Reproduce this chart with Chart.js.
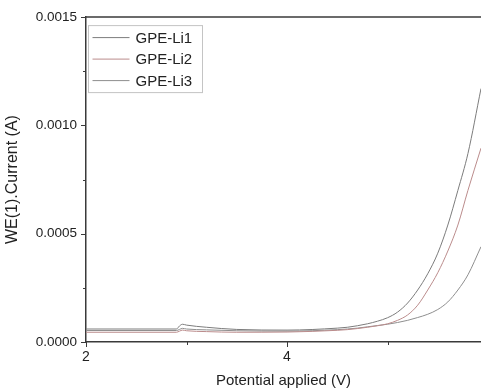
<!DOCTYPE html>
<html>
<head>
<meta charset="utf-8">
<script src="https://cdn.jsdelivr.net/npm/chart.js@4"></script>
<style>
  body { margin: 0; background: #fff; }
  canvas { display: block; }
</style>
</head>
<body>
<canvas id="lsv-chart" width="481" height="391"></canvas>
<script>
// Potential (V)
const potential = [2.0, 2.9, 2.93, 2.96, 3.0, 3.2, 3.5, 4.0, 4.5, 4.6, 4.7, 4.8, 4.9, 5.0, 5.1, 5.2, 5.3, 5.4, 5.5, 5.6, 5.7, 5.8, 5.93];

// Current (A)
const li1 = [6.0e-5, 6.0e-5, 7.4e-5, 8.2e-5, 7.8e-5, 6.8e-5, 5.8e-5, 5.5e-5, 6.4e-5, 6.8e-5, 7.5e-5, 8.4e-5, 9.6e-5, 1.12e-4, 1.38e-4, 1.8e-4, 2.4e-4, 3.15e-4, 4.1e-4, 5.4e-4, 7.0e-4, 8.7e-4, 1.17e-3];
const li2 = [4.5e-5, 4.5e-5, 5.0e-5, 5.5e-5, 5.2e-5, 4.8e-5, 4.5e-5, 4.6e-5, 5.4e-5, 5.7e-5, 6.2e-5, 6.8e-5, 7.5e-5, 8.4e-5, 1.0e-4, 1.25e-4, 1.7e-4, 2.4e-4, 3.2e-4, 4.2e-4, 5.4e-4, 7.0e-4, 8.95e-4];
const li3 = [5.3e-5, 5.3e-5, 5.8e-5, 6.3e-5, 6.0e-5, 5.6e-5, 5.2e-5, 5.0e-5, 5.7e-5, 6.0e-5, 6.4e-5, 7.0e-5, 7.6e-5, 8.2e-5, 9.0e-5, 1.0e-4, 1.13e-4, 1.28e-4, 1.5e-4, 1.85e-4, 2.4e-4, 3.1e-4, 4.4e-4];

const seriesNames = ['GPE-Li1', 'GPE-Li2', 'GPE-Li3'];
const seriesColors = ['#7c7c7c', '#bb8c8c', '#8e8e8e'];

// Tick values
const xTicks = [2, 3, 4, 5];
const yTicks = [0, 0.00025, 0.0005, 0.00075, 0.001, 0.00125, 0.0015];

const fontFamily = '"Liberation Sans", Arial, sans-serif';
const axisColor = '#3a3a3a';

function toPoints(ys) {
    return potential.map((x, i) => ({ x: x, y: ys[i] }));
}

// frame line on top, minor/major tick marks, legend box inside plot
const framePlugin = {
    id: 'frame',
    afterDraw(chart) {
        const ctx = chart.ctx;
        const area = chart.chartArea;
        const xs = chart.scales.x;
        const ys = chart.scales.y;
        ctx.save();
        ctx.strokeStyle = axisColor;
        ctx.lineWidth = 1.5;
        ctx.beginPath();
        ctx.moveTo(area.left, area.top);
        ctx.lineTo(area.right, area.top);
        ctx.stroke();

        ctx.lineWidth = 1;
        xTicks.forEach(v => {
            const px = Math.round(xs.getPixelForValue(v)) + 0.5;
            const len = v % 2 === 0 ? 5 : 3;
            ctx.beginPath();
            ctx.moveTo(px, area.bottom);
            ctx.lineTo(px, area.bottom + len);
            ctx.stroke();
        });
        yTicks.forEach((v, i) => {
            const py = Math.round(ys.getPixelForValue(v)) + 0.5;
            const len = i % 2 === 0 ? 5 : 3;
            ctx.beginPath();
            ctx.moveTo(area.left, py);
            ctx.lineTo(area.left - len, py);
            ctx.stroke();
        });

        // legend
        const bx = area.left + 2.5, by = area.top + 8.5, bw = 114, bh = 67;
        ctx.strokeStyle = '#c4c4c4';
        ctx.lineWidth = 1;
        ctx.strokeRect(bx, by, bw, bh);
        ctx.font = '15px ' + fontFamily;
        ctx.textBaseline = 'middle';
        ctx.fillStyle = '#222';
        chart.data.datasets.forEach((ds, i) => {
            const cy = by + 12 + i * 21.5;
            ctx.strokeStyle = ds.borderColor;
            ctx.beginPath();
            ctx.moveTo(bx + 4, cy);
            ctx.lineTo(bx + 41, cy);
            ctx.stroke();
            ctx.fillText(ds.label, bx + 47, cy + 1);
        });
        ctx.restore();
    }
};

const config = {
    type: 'line',
    data: {
        datasets: [li1, li2, li3].map((ys, i) => ({
            label: seriesNames[i],
            data: toPoints(ys),
            borderColor: seriesColors[i],
            borderWidth: 1,
            pointRadius: 0,
            fill: false,
            cubicInterpolationMode: 'monotone'
        }))
    },
    options: {
        responsive: false,
        animation: false,
        devicePixelRatio: 1,
        layout: { padding: { top: 17, right: 0, left: 0, bottom: 0 } },
        plugins: {
            legend: { display: false },
            tooltip: { enabled: false }
        },
        scales: {
            x: {
                type: 'linear',
                min: 2,
                max: 5.93,
                afterBuildTicks: scale => { scale.ticks = xTicks.map(v => ({ value: v })); },
                afterFit: scale => { scale.height = 49; },
                grid: { display: false, drawTicks: false },
                border: { display: true, color: axisColor, width: 1.5 },
                ticks: {
                    padding: 7,
                    color: '#222',
                    font: { family: fontFamily, size: 14 },
                    maxRotation: 0,
                    callback: v => (v % 2 === 0 ? String(v) : '')
                },
                title: {
                    display: true,
                    text: 'Potential applied (V)',
                    color: '#222',
                    font: { family: fontFamily, size: 15 },
                    padding: { top: 0, bottom: 1 }
                }
            },
            y: {
                min: 0,
                max: 0.0015,
                afterBuildTicks: scale => { scale.ticks = yTicks.map(v => ({ value: v })); },
                afterFit: scale => { scale.width = 86; },
                grid: { display: false, drawTicks: false },
                border: { display: true, color: axisColor, width: 1.5 },
                ticks: {
                    padding: 9,
                    color: '#222',
                    font: { family: fontFamily, size: 13.5 },
                    callback: (v, i) => (i % 2 === 0 ? v.toFixed(4) : '')
                },
                title: {
                    display: true,
                    text: 'WE(1).Current (A)',
                    color: '#222',
                    font: { family: fontFamily, size: 16 },
                    padding: { top: 3, bottom: 0 }
                }
            }
        }
    },
    plugins: [framePlugin]
};

new Chart(document.getElementById('lsv-chart'), config);
</script>
</body>
</html>
